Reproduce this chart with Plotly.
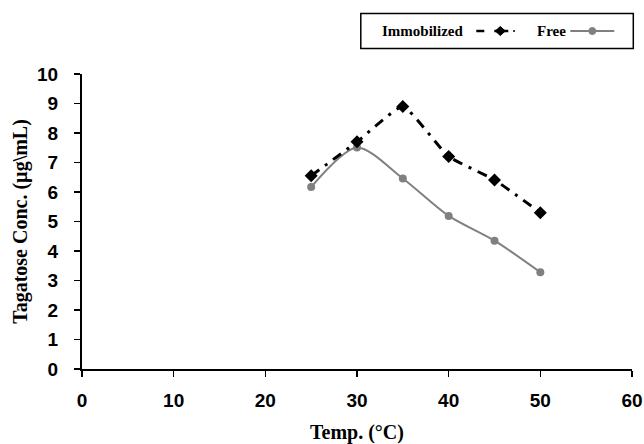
import plotly.graph_objects as go

temps = [25, 30, 35, 40, 45, 50]
immobilized = [6.55, 7.7, 8.9, 7.2, 6.41, 5.3]
free = [6.17, 7.51, 6.46, 5.19, 4.35, 3.28]
x_ticks = [0, 10, 20, 30, 40, 50, 60]
y_ticks = list(range(0, 11))

FW, FH = 644, 444
# plot area in window pixels
L, R, T, B = 81.7, 631.7, 74, 369
PW, PH = R - L, B - T

fig = go.Figure()
fig.add_trace(go.Scatter(
    x=temps, y=free, name="Free", mode="lines+markers",
    line=dict(color="#808080", width=2, shape="spline", smoothing=0.8),
    marker=dict(symbol="circle", size=8, color="#808080"),
))
fig.add_trace(go.Scatter(
    x=temps, y=immobilized, name="Immobilized", mode="lines+markers",
    line=dict(color="black", width=3, dash="10px,7px,3px,7px", shape="spline", smoothing=0.4),
    marker=dict(symbol="diamond", size=10, color="black"),
))

def px(x):
    return (x - L) / PW
def py(y):
    return (B - y) / PH

LY = 31
shapes = [
    dict(type="rect", xref="paper", yref="paper", x0=px(360.5), x1=px(633), y0=py(48.5), y1=py(13.5),
         line=dict(color="black", width=1.5), fillcolor="white"),
    dict(type="line", xref="paper", yref="paper", x0=px(476), x1=px(484), y0=py(LY), y1=py(LY),
         line=dict(color="black", width=2.5)),
    dict(type="line", xref="paper", yref="paper", x0=px(494), x1=px(508), y0=py(LY), y1=py(LY),
         line=dict(color="black", width=2.5)),
    dict(type="path", xref="paper", yref="paper",
         path=f"M {px(495)} {py(LY)} L {px(500)} {py(LY-4.5)} L {px(505)} {py(LY)} L {px(500)} {py(LY+4.5)} Z",
         fillcolor="black", line=dict(color="black", width=1)),
    dict(type="line", xref="paper", yref="paper", x0=px(513), x1=px(514.5), y0=py(LY), y1=py(LY),
         line=dict(color="black", width=2)),
    dict(type="line", xref="paper", yref="paper", x0=px(570), x1=px(614), y0=py(LY), y1=py(LY),
         line=dict(color="#808080", width=2)),
    dict(type="circle", xref="paper", yref="paper", x0=px(588.5), x1=px(595.5), y0=py(LY+3.5), y1=py(LY-3.5),
         fillcolor="#808080", line=dict(color="#808080", width=1)),
]

annotations = [
    dict(text="<b>Immobilized</b>", xref="paper", yref="paper", x=px(465), y=py(LY),
         xanchor="right", yanchor="middle", showarrow=False,
         font=dict(family="Liberation Serif", size=15, color="black")),
    dict(text="<b>Free</b>", xref="paper", yref="paper", x=px(568), y=py(LY),
         xanchor="right", yanchor="middle", showarrow=False,
         font=dict(family="Liberation Serif", size=15, color="black")),
]

fig.update_layout(
    width=FW, height=FH,
    margin=dict(l=L, r=FW - R, t=T, b=FH - B),
    paper_bgcolor="white", plot_bgcolor="white",
    showlegend=False,
    shapes=shapes, annotations=annotations,
    font=dict(family="Liberation Sans", color="black"),
)
fig.update_xaxes(
    range=[0, 60], tickvals=x_ticks, ticktext=[str(v) for v in x_ticks],
    automargin=False,
    showgrid=False, zeroline=False, showline=True, linecolor="black", linewidth=2,
    ticks="outside", ticklen=6, tickwidth=1.5, tickcolor="black",
    tickfont=dict(family="Liberation Sans", size=19, weight="bold"),
    ticklabelstandoff=7,
    title=dict(text="<b>Temp. (°C)</b>", font=dict(family="Liberation Serif", size=20), standoff=16),
)
fig.update_yaxes(
    range=[0, 10], tickvals=y_ticks, ticktext=[str(v) for v in y_ticks],
    automargin=False,
    showgrid=False, zeroline=False, showline=True, linecolor="black", linewidth=2,
    ticks="outside", ticklen=6, tickwidth=1.5, tickcolor="black",
    tickfont=dict(family="Liberation Sans", size=19, weight="bold"),
    ticklabelstandoff=12,
    title=dict(text="<b>Tagatose Conc. (µg\\mL)</b>", font=dict(family="Liberation Serif", size=20), standoff=4),
)

# remove the default page margin so the 644x444 figure fills the window exactly
fig.write_html(
    "out.html",
    config={"displayModeBar": False, "staticPlot": True},
    post_script="document.body.style.margin='0';document.body.style.overflow='hidden';",
)
